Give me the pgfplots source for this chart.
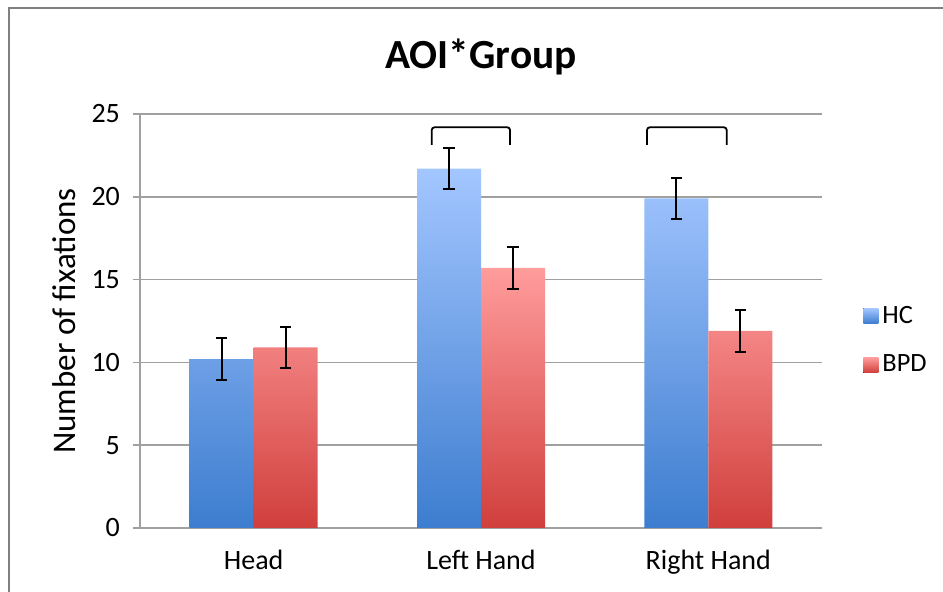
\documentclass[border=0pt]{standalone}
\usepackage{fontspec}
\setmainfont{Carlito}
\usepackage{pgfplots}
\pgfplotsset{compat=1.18}
\definecolor{hctop}{HTML}{A3C6FF}
\definecolor{hcbot}{HTML}{3D7DCF}
\definecolor{bpdtop}{HTML}{FF9C9C}
\definecolor{bpdbot}{HTML}{D03F3C}
\definecolor{axgray}{HTML}{A0A0A0}
\begin{document}
\begin{tikzpicture}
\useasboundingbox (0,0) rectangle (471.5pt,296pt);
\draw[line width=0.9pt, color=black!50] (4.5pt,-20pt) -- (4.5pt,292pt) -- (520pt,292pt);
\node[font=\bfseries\fontsize{20.7}{24}\selectfont] at (240.5pt,267.5pt) {AOI*Group};
\begin{axis}[
  at={(70pt,32pt)}, anchor=south west,
  scale only axis, width=341pt, height=207pt,
  ybar=0pt, bar width=32pt,
  xmin=0, xmax=3, ymin=0, ymax=25,
  xtick={0.5,1.5,2.5}, xticklabels={Head, Left Hand, Right Hand},
  minor xtick={0,1,2,3},
  ytick={0,5,10,15,20,25},
  axis x line*=bottom, axis y line*=left,
  axis line style={color=axgray, line width=0.8pt},
  x axis line style={-}, y axis line style={-},
  ymajorgrids, grid style={color=axgray, line width=0.8pt},
  tick align=outside,
  major tick length=3.5pt, minor tick length=4pt,
  xtick style={draw=none},
  minor x tick style={color=axgray, line width=0.8pt},
  ytick style={color=axgray, line width=0.8pt},
  /pgf/number format/assume math mode=true,
  ticklabel style={font=\fontsize{14}{17}\selectfont},
  yticklabel style={xshift=-3pt},
  xticklabel style={yshift=-4pt},
  ylabel={Number of fixations},
  ylabel style={font=\fontsize{16.5}{20}\selectfont, at={(axis description cs:-0.1114,0.5)}, anchor=center},
  legend style={at={(axis description cs:1.0514,0.453)}, anchor=west, draw=none, fill=none,
    font=\fontsize{13.2}{16}\selectfont, row sep=10.5pt},
  legend cell align=left,
  legend image code/.code={\fill[#1] (0pt,-3.75pt) rectangle (7.5pt,3.75pt);},
  error bars/y dir=both, error bars/y explicit,
  error bars/error bar style={black, line width=0.9pt},
  error bars/error mark options={black, line width=0.9pt, mark size=2.9pt, rotate=90},
]
\addplot[draw=none, top color=hctop, bottom color=hcbot, shading=axis]
  coordinates {(0.5,10.2) +- (0,1.25) (1.5,21.7) +- (0,1.25) (2.5,19.9) +- (0,1.25)};
\addplot[draw=none, top color=bpdtop, bottom color=bpdbot, shading=axis]
  coordinates {(0.5,10.9) +- (0,1.25) (1.5,15.7) +- (0,1.25) (2.5,11.9) +- (0,1.25)};
\legend{HC, BPD}
\draw[black, line width=0.9pt, rounded corners=1.5pt] (axis cs:1.283,23.13) -- (axis cs:1.283,24.2) -- (axis cs:1.628,24.2) -- (axis cs:1.628,23.13);
\draw[black, line width=0.9pt, rounded corners=1.5pt] (axis cs:2.230,23.13) -- (axis cs:2.230,24.2) -- (axis cs:2.581,24.2) -- (axis cs:2.581,23.13);
\end{axis}
\end{tikzpicture}
\end{document}
